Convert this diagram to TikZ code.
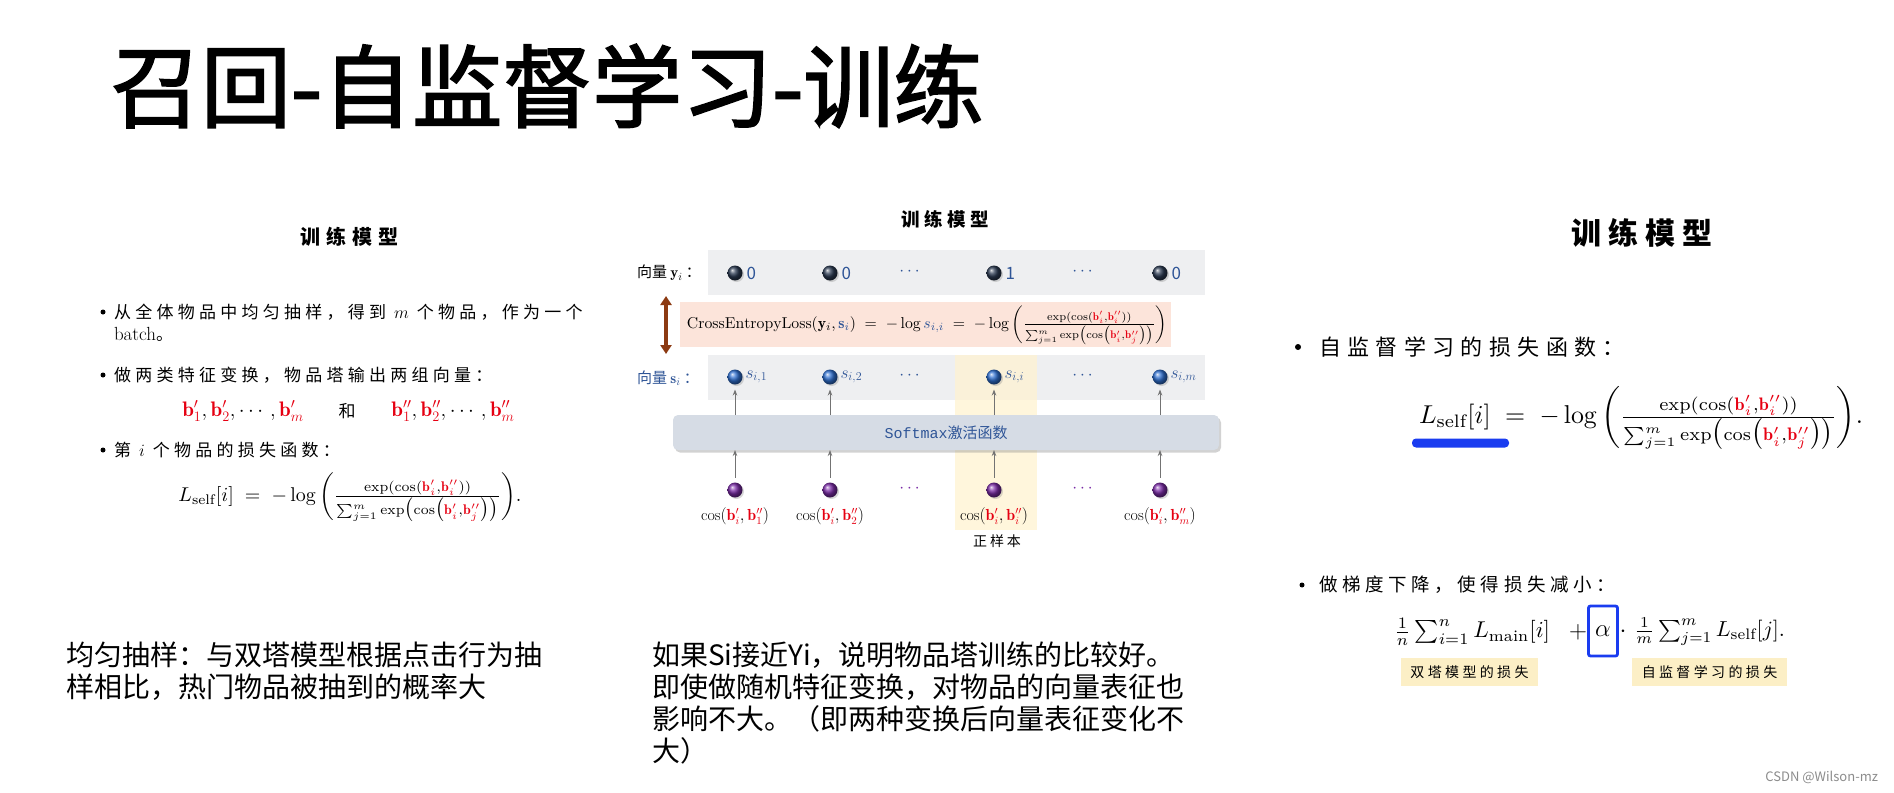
\documentclass[tikz,border=0pt]{standalone}
\usepackage{fontspec}
\usepackage{amsmath}
\usepackage{graphicx}
\usetikzlibrary{arrows.meta,shadows}
\newfontfamily\cjk{Noto Sans CJK SC}
\newfontfamily\monof{Liberation Mono}
\newcommand{\lsp}[1]{\cjk\addfontfeature{LetterSpace=#1}}
\newcommand{\lspb}[1]{\cjk\bfseries\addfontfeature{LetterSpace=#1}}
\newcommand{\fsz}[1]{\fontsize{#1}{#1}\selectfont}
\definecolor{mblue}{HTML}{2F5597}
\definecolor{dotblue}{HTML}{2E6FD0}
\definecolor{navydot}{HTML}{2B3A52}
\definecolor{purp}{HTML}{7A2BA6}
\definecolor{bandgray}{HTML}{EEEFF1}
\definecolor{pinkfill}{HTML}{FCE4DA}
\definecolor{colyellow}{HTML}{FFF3D1}
\definecolor{barfill}{HTML}{D6DCE5}
\definecolor{brownarr}{HTML}{8C3A12}
\definecolor{labyellow}{HTML}{FCEFC6}
\definecolor{ulblue}{HTML}{1A3CF0}
\definecolor{bred}{HTML}{E60012}
\definecolor{wmgray}{HTML}{8C8C8C}
\newcommand{\vbp}[1]{\textcolor{bred}{\mathbf{b}'_{#1}}}
\newcommand{\vbpp}[1]{\textcolor{bred}{\mathbf{b}''_{#1}}}
\newcommand{\lselfform}{L_{\mathrm{self}}[i] \;=\; -\log\left(\frac{\exp(\cos(\vbp i,\vbpp i))}{\sum_{j=1}^{m}\exp\bigl(\cos\bigl(\vbp i,\vbpp j\bigr)\bigr)}\right)\!.}
\begin{document}
\begin{tikzpicture}[x=1pt,y=-1pt,
  every node/.style={inner sep=0pt,outer sep=0pt},
  bul/.style={circle,fill=black,minimum size=5pt},
  band/.style={fill=bandgray,minimum width=497pt,minimum height=45pt},
  dotshadow/.style={drop shadow={shadow xshift=1.5pt,shadow yshift=-1.5pt,opacity=0.3}},
  ydot/.style={circle,minimum size=15pt,ball color=navydot,dotshadow},
  sdot/.style={circle,minimum size=15pt,ball color=dotblue,dotshadow},
  pdot/.style={circle,minimum size=15pt,ball color=purp,dotshadow},
  garrow/.style={draw=black!55,line width=0.9pt,-{Stealth[length=6pt,width=4.5pt]}},
  ylab/.style={fill=labyellow,minimum height=28pt},
]
\useasboundingbox (0,0) rectangle (1894,792);
\fill[white] (0,0) rectangle (1894,792);

% ---------- title ----------
\node[anchor=west] (title) at (111,86) {\fsz{90}\cjk\addfontfeature{FakeBold=2}召回-自监督学习-训练};

% ---------- left panel ----------
\node (ltitle) at (349,237) {\fsz{20}\lspb{30}训练模型};
\node[bul] (lb1) at (103,312) {};
\node[anchor=west] (lt1) at (114,312) {\fsz{17}\lsp{25}从全体物品中均匀抽样，得到 $m$ 个物品，作为一个};
\node[anchor=west] (lt1b) at (114,334) {\fsz{19}batch\fsz{17}\cjk 。};
\node[bul] (lb2) at (103,375) {};
\node[anchor=west] (lt2) at (114,375) {\fsz{17}\lsp{25}做两类特征变换，物品塔输出两组向量：};
\node (lv1) at (243,411) {\fsz{21}$\vbp1,\vbp2,\cdots,\vbp m$};
\node (lhe) at (347,411) {\fsz{17}\cjk 和};
\node (lv2) at (453,411) {\fsz{21}$\vbpp1,\vbpp2,\cdots,\vbpp m$};
\node[bul] (lb3) at (103,450) {};
\node[anchor=west] (lt3) at (114,450) {\fsz{17}\lsp{25}第 $i$ 个物品的损失函数：};
\node (lf) at (350,497) {\resizebox{343pt}{!}{$\lselfform$}};

% ---------- middle panel ----------
\node (mtitle) at (945,219) {\fsz{18.5}\lspb{24}训练模型};
\node[band] (yband) at (956.5,272.5) {};
\node[band] (sband) at (956.5,377.5) {};
\node[fill=colyellow,fill opacity=0.75,minimum width=82pt,minimum height=175pt] (poscol) at (996,442.5) {};
\node[fill=pinkfill,minimum width=491pt,minimum height=45pt] (cebox) at (925.5,324.5) {};
\node (ceform) at (927,325) {\resizebox{480pt}{!}{$\mathrm{CrossEntropyLoss}(\mathbf{y}_i,\textcolor{mblue}{\mathbf{s}_i}) \;=\; -\log \textcolor{mblue}{s_{i,i}} \;=\; -\log\left(\frac{\exp(\cos(\vbp i,\vbpp i))}{\sum_{j=1}^{m}\exp\bigl(\cos\bigl(\vbp i,\vbpp j\bigr)\bigr)}\right)$}};
\node[fill=barfill,rounded corners=5pt,minimum width=546pt,minimum height=35pt,
      drop shadow={shadow xshift=2pt,shadow yshift=-2.5pt,opacity=0.35}] (smax) at (946,432.5)
      {\fsz{15}\color{mblue}{\monof Softmax}\cjk 激活函数};

\node[anchor=west] (ylab) at (637,273) {\fsz{15}\cjk 向量 $\mathbf{y}_i$ ：};
\node[anchor=west,text=mblue] (slab) at (637,378) {\fsz{15}\cjk 向量 $\mathbf{s}_i$ ：};

\foreach \x/\v/\n in {735/0/1,830/0/2,994/1/3,1160/0/4}{
  \node[ydot] (yd\n) at (\x,273) {};
  \node[anchor=west,text=mblue] (yv\n) at ([xshift=4pt]yd\n.east) {\fsz{17}\cjk \v};
}
\foreach \x/\v/\n in {735/1/1,830/2/2,994/i/3,1160/m/4}{
  \node[sdot] (sd\n) at (\x,377) {};
  \node[anchor=west,text=mblue] (sv\n) at ([xshift=3pt]sd\n.east) {\fsz{18}$s_{i,\v}$};
  \node[pdot] (pd\n) at (\x,490) {};
}
\node[text=mblue] (ydots1) at (911,272) {\fsz{17}$\cdots$};
\node[text=mblue] (ydots2) at (1084,272) {\fsz{17}$\cdots$};
\node[text=mblue] (sdots1) at (911,376) {\fsz{17}$\cdots$};
\node[text=mblue] (sdots2) at (1084,376) {\fsz{17}$\cdots$};
\node[text=purp] (pdots1) at (911,489) {\fsz{17}$\cdots$};
\node[text=purp] (pdots2) at (1084,489) {\fsz{17}$\cdots$};

\node (c1) at (735,516) {\fsz{16}$\cos(\vbp i,\vbpp 1)$};
\node (c2) at (830,516) {\fsz{16}$\cos(\vbp i,\vbpp 2)$};
\node (c3) at (994,516) {\fsz{16}$\cos(\vbp i,\vbpp i)$};
\node (c4) at (1160,516) {\fsz{16}$\cos(\vbp i,\vbpp m)$};
\node (posl) at (997,541) {\fsz{14}\lsp{20}正样本};

\foreach \n in {1,...,4}{
  \draw[garrow] ([yshift=5pt]pd\n.north) -- (pd\n.north |- smax.south);
  \draw[garrow] (sd\n.south |- smax.north) -- ([yshift=-5pt]sd\n.south);
}
\coordinate (ba1) at (666,296);
\coordinate (ba2) at (666,354);
\draw[draw=brownarr,line width=3.5pt,{Triangle[length=9pt,width=11pt]}-{Triangle[length=9pt,width=11pt]}] (ba1) -- (ba2);

% ---------- right panel ----------
\node (rtitle) at (1642,233) {\fsz{30}\lspb{24}训练模型};
\node[bul,minimum size=6pt] (rb1) at (1298,347) {};
\node[anchor=west] (rt1) at (1319,347) {\fsz{22}\lsp{29}自监督学习的损失函数：};
\node[anchor=west] (rf) at (1419,418) {\resizebox{444pt}{!}{$\lselfform$}};
\node[fill=ulblue,rounded corners=4pt,minimum width=97pt,minimum height=9pt] (ubar) at (1460.5,443) {};

\node[bul] (rb2) at (1302,585) {};
\node[anchor=west] (rt2) at (1319,585) {\fsz{18.5}\lsp{25}做梯度下降，使得损失减小：};
\node[anchor=west] (rf1) at (1394,632) {\resizebox{156pt}{!}{$\frac{1}{n}\sum_{i=1}^{n} L_{\mathrm{main}}[i]$}};
\node (rplus) at (1578,632) {\fsz{24}$+$};
\node[draw=ulblue,line width=2.8pt,rounded corners=2pt,minimum width=29pt,minimum height=50pt] (ralpha) at (1603,631) {\fsz{24}$\alpha$};
\node (rdot) at (1623,632) {\fsz{24}$\cdot$};
\node[anchor=west] (rf2) at (1634,632) {\resizebox{151pt}{!}{$\frac{1}{m}\sum_{j=1}^{m} L_{\mathrm{self}}[j].$}};
\node[ylab,minimum width=137pt] (ry1) at (1469.5,672) {\fsz{14}\lsp{24}双塔模型的损失};
\node[ylab,minimum width=155pt] (ry2) at (1709.5,672) {\fsz{14}\lsp{24}自监督学习的损失};

% ---------- bottom notes ----------
\node[anchor=west] (bl1) at (66,655) {\fsz{28}\cjk 均匀抽样：与双塔模型根据点击行为抽};
\node[anchor=west] (bl2) at (66,687) {\fsz{28}\cjk 样相比，热门物品被抽到的概率大};
\node[anchor=west] (bm1) at (652,655) {\fsz{28}\cjk 如果Si接近Yi，说明物品塔训练的比较好。};
\node[anchor=west] (bm2) at (652,687) {\fsz{28}\cjk 即使做随机特征变换，对物品的向量表征也};
\node[anchor=west] (bm3) at (652,719) {\fsz{28}\cjk 影响不大。（即两种变换后向量表征变化不};
\node[anchor=west] (bm4) at (652,751) {\fsz{28}\cjk 大）};
\node[anchor=east,text=wmgray] (wm) at (1878,777) {\fsz{13}\cjk CSDN @Wilson-mz};
\end{tikzpicture}
\end{document}
